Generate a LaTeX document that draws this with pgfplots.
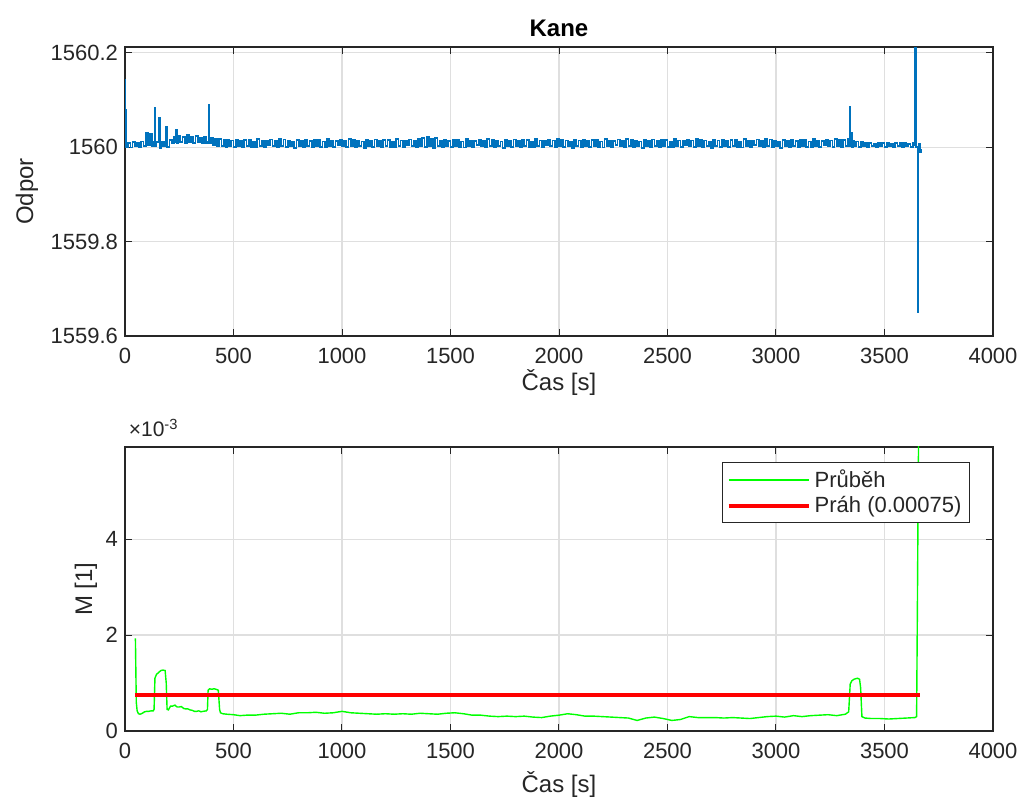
\documentclass[border=0pt]{standalone}
\usepackage{fontspec}
\setmainfont{Liberation Sans}
\usepackage{pgfplots}
\pgfplotsset{compat=1.18}
\definecolor{axgray}{HTML}{262626}
\definecolor{gridgray}{HTML}{DFDFDF}
\definecolor{mblue}{HTML}{0072BD}
\pgfplotsset{
  myaxis/.style={
    scale only axis, width=434pt,
    xmin=0, xmax=4000,
    xtick={0,500,1000,1500,2000,2500,3000,3500,4000},
    xticklabels={0,500,1000,1500,2000,2500,3000,3500,4000},
    /pgf/number format/assume math mode=true,
    tick align=inside,
    major tick length=3.5pt,
    every tick/.style={axgray, line width=0.5pt},
    axis line style={axgray, line width=0.6pt},
    grid=major,
    major grid style={gridgray, line width=0.6pt},
    ticklabel style={font=\fontsize{11}{13}\selectfont, text=axgray},
    xticklabel style={yshift=-2.5pt},
    label style={font=\fontsize{12}{14}\selectfont, text=axgray},
    xlabel={Čas [s]},
    clip mode=individual,
  }
}
\begin{document}
\begin{tikzpicture}
\useasboundingbox (0,0) rectangle (512pt,402.5pt);
% ---------------- top axis ----------------
\begin{axis}[myaxis,
  at={(62.5pt,234.5pt)}, anchor=south west,
  height=144.5pt,
  ymin=1559.6, ymax=1560.212,
  ytick={1559.6,1559.8,1560,1560.2},
  yticklabels={1559.6,1559.8,1560,1560.2},
  ylabel={Odpor},
  ylabel style={at={(axis description cs:-0.113,0.5)}, anchor=center},
  xlabel style={at={(axis description cs:0.5,-0.16)}, anchor=center},
  title={\textbf{Kane}},
  title style={at={(axis description cs:0.5,1.024)}, anchor=center, font=\fontsize{12}{14}\selectfont, text=black},
]
\addplot[mblue, line width=0.9pt, const plot] coordinates {
(0,1560.142) (1,1560.078) (3,1560.003)
(5,1560.001) (15,1560.009) (25,1559.999) (35,1560.010) (45,1560.002) (55,1560.008) (65,1560.000) (75,1560.012)
(85,1560.003) (95,1560.030) (105,1560.004) (115,1560.028) (125,1560.002) (135,1560.010) (137,1560.004) (139,1560.083)
(141,1560.003) (145,1560.010) (155,1560.062) (160,1559.998) (165,1560.010) (175,1560.002) (185,1560.012) (190,1560.043)
(195,1560.000) (205,1560.015) (215,1560.008) (225,1560.022) (235,1560.010) (236,1560.036) (240,1560.009) (245,1560.024)
(255,1560.011) (265,1560.022) (275,1560.009) (285,1560.025) (295,1560.010) (305,1560.021) (315,1560.008) (325,1560.023)
(335,1560.010) (345,1560.020) (355,1560.008) (365,1560.022) (375,1560.009) (383,1560.010) (385,1560.089) (387,1560.008)
(395,1560.020) (405,1560.004) (415,1560.018) (425,1560.002) (435,1560.017) (445,1560.003) (455,1560.016) (465,1560.001) (470,1560.015)
(480,1560.002) (490,1560.014) (500,1560.000) (510,1560.016) (520,1560.003) (530,1560.013) (540,1560.001) (550,1560.015)
(560,1560.003) (570,1560.015) (580,1560.001) (590,1560.012) (600,1559.999) (610,1560.017) (620,1560.002) (630,1560.014)
(640,1560.001) (650,1560.013) (660,1560.004) (670,1560.016) (680,1560.002) (690,1560.014) (700,1560.000) (710,1560.018)
(720,1560.002) (730,1560.016) (740,1560.001) (750,1560.014) (760,1560.003) (770,1560.012) (780,1559.998) (790,1560.015)
(800,1560.002) (810,1560.014) (820,1560.000) (830,1560.016) (840,1560.003) (850,1560.013) (860,1560.001) (870,1560.015)
(880,1560.003) (890,1560.015) (900,1560.001) (910,1560.012) (920,1559.999) (930,1560.017) (940,1560.002) (950,1560.014)
(960,1560.001) (970,1560.013) (980,1560.004) (990,1560.016) (1000,1560.002) (1010,1560.014) (1020,1560.000) (1030,1560.018)
(1040,1560.002) (1050,1560.016) (1060,1560.001) (1070,1560.014) (1080,1560.003) (1090,1560.012) (1100,1559.998) (1110,1560.015)
(1120,1560.002) (1130,1560.014) (1140,1560.000) (1150,1560.016) (1160,1560.003) (1170,1560.013) (1180,1560.001) (1190,1560.015)
(1200,1560.003) (1210,1560.015) (1220,1560.001) (1230,1560.012) (1240,1559.999) (1250,1560.017) (1260,1560.002) (1270,1560.014)
(1280,1560.001) (1290,1560.013) (1300,1560.004) (1310,1560.016) (1320,1560.002) (1330,1560.014) (1340,1560.000) (1350,1560.018)
(1360,1560.002) (1370,1560.020) (1380,1560.001) (1390,1560.022) (1400,1560.003) (1410,1560.017) (1420,1559.998) (1430,1560.019)
(1440,1560.002) (1450,1560.014) (1460,1560.000) (1470,1560.016) (1480,1560.003) (1490,1560.013) (1500,1560.001) (1510,1560.015)
(1520,1560.003) (1530,1560.015) (1540,1560.001) (1550,1560.012) (1560,1559.999) (1570,1560.017) (1580,1560.002) (1590,1560.014)
(1600,1560.001) (1610,1560.013) (1620,1560.004) (1630,1560.016) (1640,1560.002) (1650,1560.014) (1660,1560.000) (1670,1560.018)
(1680,1560.002) (1690,1560.016) (1700,1560.001) (1710,1560.014) (1720,1560.003) (1730,1560.012) (1740,1559.998) (1750,1560.015)
(1760,1560.002) (1770,1560.014) (1780,1560.000) (1790,1560.016) (1800,1560.003) (1810,1560.013) (1820,1560.001) (1830,1560.015)
(1840,1560.003) (1850,1560.015) (1860,1560.001) (1870,1560.012) (1880,1559.999) (1890,1560.017) (1900,1560.002) (1910,1560.014)
(1920,1560.001) (1930,1560.013) (1940,1560.004) (1950,1560.016) (1960,1560.002) (1970,1560.014) (1980,1560.000) (1990,1560.018)
(2000,1560.002) (2010,1560.016) (2020,1560.001) (2030,1560.014) (2040,1560.003) (2050,1560.012) (2060,1559.998) (2070,1560.015)
(2080,1560.002) (2090,1560.014) (2100,1560.000) (2110,1560.016) (2120,1560.003) (2130,1560.013) (2140,1560.001) (2150,1560.015)
(2160,1560.003) (2170,1560.015) (2180,1560.001) (2190,1560.012) (2200,1559.999) (2210,1560.017) (2220,1560.002) (2230,1560.014)
(2240,1560.001) (2250,1560.013) (2260,1560.004) (2270,1560.016) (2280,1560.002) (2290,1560.014) (2300,1560.000) (2310,1560.018)
(2320,1560.002) (2330,1560.016) (2340,1560.001) (2350,1560.014) (2360,1560.003) (2370,1560.012) (2380,1559.998) (2390,1560.015)
(2400,1560.002) (2410,1560.014) (2420,1560.000) (2430,1560.016) (2440,1560.003) (2450,1560.013) (2460,1560.001) (2470,1560.015)
(2480,1560.003) (2490,1560.015) (2500,1560.001) (2510,1560.012) (2520,1559.999) (2530,1560.017) (2540,1560.002) (2550,1560.014)
(2560,1560.001) (2570,1560.013) (2580,1560.004) (2590,1560.016) (2600,1560.002) (2610,1560.014) (2620,1560.000) (2630,1560.018)
(2640,1560.002) (2650,1560.016) (2660,1560.001) (2670,1560.014) (2680,1560.003) (2690,1560.012) (2700,1559.998) (2710,1560.015)
(2720,1560.002) (2730,1560.014) (2740,1560.000) (2750,1560.016) (2760,1560.003) (2770,1560.013) (2780,1560.001) (2790,1560.015)
(2800,1560.003) (2810,1560.015) (2820,1560.001) (2830,1560.012) (2840,1559.999) (2850,1560.017) (2860,1560.002) (2870,1560.014)
(2880,1560.001) (2890,1560.013) (2900,1560.004) (2910,1560.016) (2920,1560.002) (2930,1560.014) (2940,1560.000) (2950,1560.018)
(2960,1560.002) (2970,1560.016) (2980,1560.001) (2990,1560.014) (3000,1560.003) (3010,1560.012) (3020,1559.998) (3030,1560.015)
(3040,1560.002) (3050,1560.014) (3060,1560.000) (3070,1560.016) (3080,1560.003) (3090,1560.013) (3100,1560.001) (3110,1560.015)
(3120,1560.003) (3130,1560.015) (3140,1560.001) (3150,1560.012) (3160,1559.999) (3170,1560.017) (3180,1560.002) (3190,1560.014)
(3200,1560.001) (3210,1560.013) (3220,1560.004) (3230,1560.016) (3240,1560.002) (3250,1560.014) (3260,1560.000) (3270,1560.018)
(3280,1560.002) (3290,1560.016) (3300,1560.001) (3310,1560.015) (3320,1560.003) (3330,1560.017) (3337,1560.004) (3339,1560.085)
(3341,1560.003) (3345,1560.030) (3350,1560.000) (3355,1560.014) (3360,1560.002) (3370,1560.012) (3380,1560.001) (3390,1560.010)
(3400,1560.002) (3410,1560.008) (3420,1560.001) (3430,1560.009) (3440,1560.003) (3450,1560.007) (3460,1560.001) (3470,1560.009)
(3480,1560.002) (3490,1560.008) (3500,1560.001) (3510,1560.009) (3520,1560.003) (3530,1560.007) (3540,1560.001) (3550,1560.009)
(3560,1560.002) (3570,1560.008) (3580,1560.001) (3590,1560.009) (3600,1560.003) (3610,1560.007) (3620,1560.001) (3630,1560.009)
(3640,1560.004) (3642,1560.250) (3647,1560.000) (3652,1559.651) (3655,1560.000) (3658,1560.006) (3662,1559.990) (3667,1559.995)
};
\end{axis}
% ---------------- bottom axis ----------------
\begin{axis}[myaxis,
  at={(62.5pt,37pt)}, anchor=south west,
  height=142pt,
  ymin=0, ymax=5.92,
  ytick={0,2,4},
  yticklabels={0,2,4},
  ylabel={M [1]},
  ylabel style={at={(axis description cs:-0.045,0.5)}, anchor=center},
  xlabel style={at={(axis description cs:0.5,-0.19)}, anchor=center},
  legend style={at={(axis description cs:1,1)}, anchor=north east, xshift=-11.5pt, yshift=-7.5pt,
    draw=axgray, line width=0.5pt, fill=white, font=\fontsize{11}{13}\selectfont, text=axgray,
    inner xsep=2pt, inner ysep=1.5pt, row sep=-1pt, cells={anchor=west}},
  legend image code/.code={\draw[#1] (0pt,0pt) -- (40pt,0pt);},
]
\addplot[green, line width=0.7pt] coordinates {
(48,1.93) (52,0.60) (56,0.42) (62,0.36) (70,0.35) (80,0.37) (90,0.40) (100,0.41) (110,0.41) (120,0.42) (130,0.42)
(134,0.45) (138,1.10) (145,1.18) (155,1.22) (165,1.26) (175,1.27) (185,1.26) (190,1.00) (194,0.45) (200,0.44)
(210,0.52) (220,0.52) (230,0.54) (240,0.50) (250,0.50) (260,0.51) (270,0.47) (280,0.46) (290,0.46) (300,0.44)
(310,0.43) (320,0.41) (330,0.41) (340,0.42) (350,0.40) (360,0.41) (375,0.42) (380,0.45) (383,0.85) (390,0.88)
(400,0.87) (410,0.88) (420,0.87) (430,0.85) (436,0.45) (440,0.38) (450,0.36) (470,0.35) (500,0.34) (530,0.32)
(560,0.33) (600,0.33) (640,0.35) (680,0.36) (720,0.37) (760,0.35) (800,0.38) (840,0.38) (880,0.39) (920,0.37)
(960,0.38) (1000,0.41) (1040,0.38) (1080,0.37) (1120,0.36) (1160,0.35) (1200,0.36) (1240,0.35) (1280,0.36)
(1320,0.35) (1360,0.37) (1400,0.36) (1440,0.35) (1480,0.37) (1520,0.38) (1560,0.36) (1600,0.33) (1640,0.33)
(1680,0.31) (1720,0.30) (1760,0.31) (1800,0.30) (1840,0.31) (1880,0.29) (1920,0.28) (1960,0.31) (2000,0.33)
(2040,0.36) (2080,0.34) (2120,0.31) (2160,0.31) (2200,0.30) (2240,0.29) (2280,0.28) (2320,0.27) (2360,0.22)
(2400,0.27) (2440,0.29) (2480,0.26) (2520,0.22) (2560,0.24) (2600,0.30) (2640,0.28) (2680,0.28) (2720,0.28)
(2760,0.27) (2800,0.28) (2840,0.27) (2880,0.26) (2920,0.28) (2960,0.30) (3000,0.31) (3040,0.29) (3080,0.32)
(3120,0.30) (3160,0.32) (3200,0.33) (3240,0.34) (3280,0.32) (3320,0.35) (3335,0.40) (3342,0.98) (3350,1.05)
(3360,1.08) (3375,1.10) (3385,1.08) (3390,0.90) (3396,0.30) (3410,0.27) (3440,0.26) (3480,0.26) (3520,0.25)
(3560,0.26) (3600,0.27) (3640,0.28) (3648,0.30) (3652,2.80) (3655,5.00) (3658,6.50)
};
\addlegendentry{Průběh}
\addplot[red, line width=2.2pt] coordinates {(48,0.75) (3665,0.75)};
\addlegendentry{Práh (0.00075)}
\node[anchor=west, font=\fontsize{10.5}{12}\selectfont, text=axgray, inner sep=0pt] at (axis description cs:0.004,1.067) {×10\textsuperscript{-3}};
\end{axis}
\end{tikzpicture}
\end{document}
